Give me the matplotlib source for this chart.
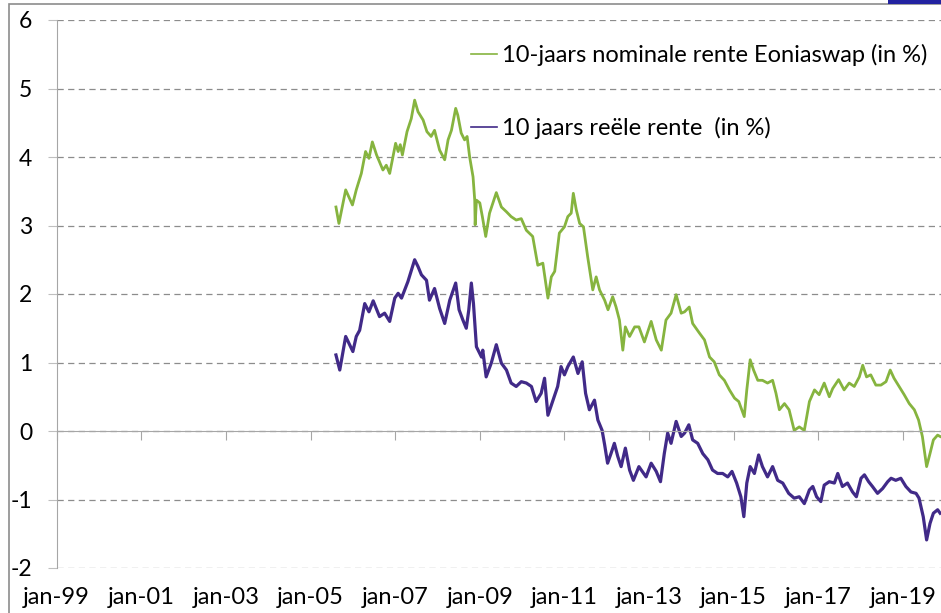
import matplotlib.pyplot as plt
from matplotlib.patches import Rectangle

plt.rcParams['font.family'] = ['Lato', 'DejaVu Sans']
plt.rcParams['axes.unicode_minus'] = False

# decimal years
nom_years = [2005.60, 2005.67, 2005.83, 2005.99, 2006.08, 2006.20, 2006.30, 2006.38, 2006.46, 2006.56,
             2006.71, 2006.79, 2006.87, 2007.01, 2007.07, 2007.12, 2007.17, 2007.28, 2007.38, 2007.46,
             2007.54, 2007.66, 2007.75, 2007.85, 2007.93, 2008.05, 2008.17, 2008.25, 2008.33, 2008.43,
             2008.48, 2008.56, 2008.64, 2008.70, 2008.76, 2008.84, 2008.88, 2008.89, 2008.92, 2009.00,
             2009.06, 2009.14, 2009.23, 2009.39, 2009.51, 2009.63, 2009.74, 2009.86, 2009.98, 2010.10,
             2010.25, 2010.37, 2010.49, 2010.61, 2010.69, 2010.77, 2010.88, 2011.00, 2011.08, 2011.16,
             2011.21, 2011.28, 2011.36, 2011.45, 2011.55, 2011.67, 2011.75, 2011.83, 2011.95, 2012.03,
             2012.14, 2012.22, 2012.30, 2012.38, 2012.44, 2012.54, 2012.66, 2012.76, 2012.89, 2013.05,
             2013.17, 2013.29, 2013.40, 2013.52, 2013.64, 2013.76, 2013.84, 2013.95, 2014.03, 2014.19,
             2014.31, 2014.43, 2014.54, 2014.66, 2014.78, 2014.90, 2015.02, 2015.12, 2015.25, 2015.31,
             2015.39, 2015.47, 2015.57, 2015.68, 2015.80, 2015.92, 2016.00, 2016.08, 2016.20, 2016.31,
             2016.43, 2016.55, 2016.67, 2016.79, 2016.91, 2017.02, 2017.14, 2017.26, 2017.34, 2017.48,
             2017.61, 2017.73, 2017.85, 2017.97, 2018.05, 2018.14, 2018.24, 2018.36, 2018.48, 2018.60,
             2018.70, 2018.79, 2018.91, 2019.03, 2019.15, 2019.27, 2019.37, 2019.46, 2019.56, 2019.64,
             2019.72, 2019.82, 2019.88]
nom_rate = [3.27, 3.03, 3.52, 3.30, 3.52, 3.76, 4.08, 3.98, 4.22, 4.03,
            3.81, 3.88, 3.76, 4.20, 4.08, 4.18, 4.03, 4.37, 4.56, 4.83,
            4.66, 4.54, 4.37, 4.30, 4.39, 4.10, 3.96, 4.25, 4.39, 4.71,
            4.61, 4.35, 4.25, 4.30, 4.00, 3.71, 3.37, 3.01, 3.37, 3.33,
            3.13, 2.84, 3.18, 3.48, 3.27, 3.20, 3.13, 3.08, 3.10, 2.93,
            2.84, 2.42, 2.45, 1.94, 2.25, 2.33, 2.89, 2.98, 3.13, 3.18,
            3.47, 3.23, 3.03, 2.98, 2.54, 2.06, 2.25, 2.06, 1.91, 1.77,
            1.96, 1.81, 1.62, 1.18, 1.52, 1.38, 1.52, 1.52, 1.30, 1.60,
            1.33, 1.18, 1.62, 1.72, 1.99, 1.72, 1.74, 1.81, 1.57, 1.43,
            1.33, 1.08, 1.01, 0.82, 0.74, 0.60, 0.48, 0.43, 0.21, 0.60,
            1.04, 0.89, 0.74, 0.74, 0.70, 0.74, 0.55, 0.31, 0.40, 0.31,
            0.01, 0.06, 0.01, 0.43, 0.60, 0.53, 0.70, 0.50, 0.62, 0.75,
            0.60, 0.70, 0.65, 0.79, 0.96, 0.79, 0.82, 0.67, 0.67, 0.72,
            0.89, 0.77, 0.65, 0.53, 0.40, 0.31, 0.16, -0.08, -0.52, -0.33,
            -0.13, -0.06, -0.08]

real_years = [2005.60, 2005.69, 2005.83, 2006.00, 2006.08, 2006.16, 2006.28, 2006.38, 2006.48, 2006.63,
              2006.75, 2006.87, 2006.99, 2007.07, 2007.15, 2007.30, 2007.46, 2007.54, 2007.62, 2007.74,
              2007.81, 2007.93, 2008.05, 2008.17, 2008.29, 2008.43, 2008.51, 2008.60, 2008.68, 2008.74,
              2008.80, 2008.85, 2008.92, 2009.00, 2009.04, 2009.07, 2009.15, 2009.27, 2009.39, 2009.51,
              2009.63, 2009.74, 2009.86, 2009.98, 2010.10, 2010.22, 2010.33, 2010.45, 2010.53, 2010.61,
              2010.73, 2010.84, 2010.92, 2011.00, 2011.08, 2011.21, 2011.32, 2011.42, 2011.50, 2011.59,
              2011.71, 2011.79, 2011.89, 2011.95, 2012.02, 2012.10, 2012.18, 2012.26, 2012.34, 2012.44,
              2012.54, 2012.63, 2012.76, 2012.93, 2013.05, 2013.17, 2013.27, 2013.36, 2013.44, 2013.52,
              2013.64, 2013.76, 2013.84, 2013.94, 2014.03, 2014.15, 2014.27, 2014.39, 2014.50, 2014.62,
              2014.74, 2014.86, 2014.96, 2015.07, 2015.17, 2015.24, 2015.31, 2015.39, 2015.49, 2015.59,
              2015.68, 2015.80, 2015.92, 2016.04, 2016.16, 2016.30, 2016.43, 2016.55, 2016.67, 2016.79,
              2016.87, 2016.96, 2017.06, 2017.14, 2017.26, 2017.38, 2017.46, 2017.57, 2017.69, 2017.81,
              2017.90, 2018.01, 2018.09, 2018.19, 2018.28, 2018.40, 2018.52, 2018.64, 2018.72, 2018.83,
              2018.95, 2019.07, 2019.19, 2019.31, 2019.38, 2019.48, 2019.56, 2019.64, 2019.72, 2019.82,
              2019.88]
real_rate = [1.11, 0.89, 1.38, 1.16, 1.38, 1.47, 1.86, 1.74, 1.90, 1.67,
             1.72, 1.60, 1.94, 2.01, 1.94, 2.18, 2.50, 2.40, 2.28, 2.20,
             1.91, 2.08, 1.79, 1.57, 1.91, 2.16, 1.77, 1.62, 1.50, 1.77,
             2.16, 1.86, 1.23, 1.13, 1.08, 1.18, 0.79, 0.99, 1.26, 0.99,
             0.89, 0.70, 0.65, 0.72, 0.70, 0.65, 0.43, 0.55, 0.77, 0.23,
             0.45, 0.65, 0.94, 0.82, 0.94, 1.08, 0.84, 1.01, 0.55, 0.31,
             0.45, 0.16, 0.01, -0.20, -0.47, -0.33, -0.18, -0.37, -0.52, -0.25,
             -0.57, -0.72, -0.52, -0.67, -0.47, -0.59, -0.74, -0.33, -0.03, -0.18,
             0.14, -0.08, -0.03, 0.09, -0.13, -0.18, -0.33, -0.42, -0.57, -0.62,
             -0.62, -0.67, -0.59, -0.76, -0.96, -1.25, -0.76, -0.52, -0.62, -0.35,
             -0.52, -0.67, -0.52, -0.72, -0.76, -0.91, -0.98, -0.96, -1.06, -0.86,
             -0.81, -0.96, -1.03, -0.79, -0.74, -0.76, -0.62, -0.81, -0.76, -0.89,
             -0.96, -0.69, -0.64, -0.74, -0.81, -0.91, -0.84, -0.74, -0.69, -0.72,
             -0.69, -0.81, -0.89, -0.91, -0.98, -1.25, -1.59, -1.35, -1.20, -1.15,
             -1.20]

tick_years = [1999, 2001, 2003, 2005, 2007, 2009, 2011, 2013, 2015, 2017, 2019]
tick_labels = ['jan-99', 'jan-01', 'jan-03', 'jan-05', 'jan-07', 'jan-09',
               'jan-11', 'jan-13', 'jan-15', 'jan-17', 'jan-19']

fig = plt.figure(figsize=(9.41, 6.13), dpi=100)
ax = fig.add_axes([56.7 / 941, 1 - 568 / 613, 1 - 56.7 / 941, 548 / 613])

ax.plot(nom_years, nom_rate, color='#86b43f', lw=2.0,
        label='10-jaars nominale rente Eoniaswap (in %)')
ax.plot(real_years, real_rate, color='#412a88', lw=2.3,
        label='10 jaars reële rente  (in %)')

ax.set_xlim(1999, 2019.9)
ax.set_ylim(-2, 6)
ax.set_yticks(range(-2, 7))
ax.set_xticks(tick_years)
ax.set_xticklabels(tick_labels)

ax.yaxis.grid(True, color='#8c8c8c', lw=0.9, linestyle=(0, (5, 3.5)))
ax.set_axisbelow(True)

for s in ['top', 'right']:
    ax.spines[s].set_visible(False)
ax.spines['left'].set_color('#a6a6a6')
ax.spines['bottom'].set_color('#a6a6a6')
ax.spines['bottom'].set_position(('data', 0))
ax.spines['bottom'].set_zorder(3)

ax.tick_params(axis='y', direction='out', length=6.5, color='#bfbfbf',
               labelsize=16.5, pad=11)
ax.tick_params(axis='x', direction='out', length=6.5, color='#a6a6a6',
               labelsize=17, pad=106)

leg = ax.legend(loc='upper left', bbox_to_anchor=(471 / 941, 1 - 44 / 613),
                bbox_transform=fig.transFigure, frameon=False, fontsize=17,
                handlelength=1.1, handletextpad=0.2, labelspacing=2.17,
                borderpad=0, borderaxespad=0)
for h in leg.get_lines():
    h.set_linewidth(1.2)

# chart area frame and corner mark
fig.patches.append(Rectangle((9 / 941, -0.1), 1.2, 1 - 4 / 613 + 0.1,
                             transform=fig.transFigure, fill=False,
                             edgecolor='#8c8c8c', lw=1.2))
fig.patches.append(Rectangle((888 / 941, 1 - 3.5 / 613), 60 / 941, 3.5 / 613,
                             transform=fig.transFigure, color='#2222a0', lw=0))

fig.savefig('out.png', dpi=100)
